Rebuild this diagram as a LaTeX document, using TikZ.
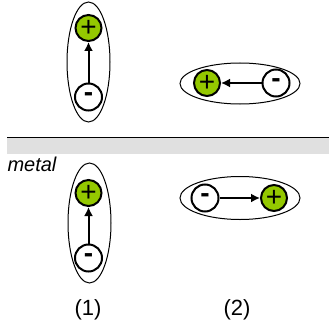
\documentclass[tikz,border=0pt]{standalone}
\usepackage{fontspec}
\setmainfont{Liberation Sans}
\usetikzlibrary{arrows.meta,shapes.geometric}
\definecolor{plusgreen}{RGB}{148,200,0}
\definecolor{metalgray}{RGB}{224,224,224}

\begin{document}
\begin{tikzpicture}[x=1pt, y=-1pt,
    charge/.style={circle, draw, line width=2pt, inner sep=0pt},
    poscharge/.style={charge, fill=plusgreen, minimum size=26pt, font=\fontsize{28}{28}\selectfont},
    negcharge/.style={charge, fill=white, minimum size=27pt, font=\fontsize{28}{28}\selectfont\bfseries},
    shell/.style={ellipse, draw, line width=1pt, inner sep=0pt},
    bond/.style={-{Latex[length=9pt,width=9pt]}, line width=2pt},
    caption/.style={font=\fontsize{22}{22}\selectfont}
]
    \useasboundingbox (0,0) rectangle (329,329);

    % metal surface
    \fill[metalgray] (7,138) rectangle (329,154);
    \draw[line width=1pt] (7,137) -- (329,137);
    \node[anchor=west, font=\fontsize{20}{20}\selectfont\itshape] (metal) at (4,164) {metal};

    % upper row
    \node[shell, minimum width=43pt, minimum height=120pt] (shellA) at (88.5,62) {};
    \node[poscharge] (posA) at (88.5,28) {+};
    \node[negcharge] (negA) at (88.5,97) {-};
    \draw[bond] (negA) -- (posA);

    \node[shell, minimum width=120pt, minimum height=41pt] (shellB) at (240,83.5) {};
    \node[poscharge] (posB) at (207,83) {+};
    \node[negcharge] (negB) at (276,83) {-};
    \draw[bond] (negB) -- (posB);

    % lower row
    \node[shell, minimum width=43pt, minimum height=120pt] (shellC) at (89.5,223) {};
    \node[poscharge] (posC) at (88.5,193) {+};
    \node[negcharge] (negC) at (88.5,258) {-};
    \draw[bond] (negC) -- (posC);

    \node[shell, minimum width=120pt, minimum height=43pt] (shellD) at (240,198) {};
    \node[negcharge] (negD) at (205,198) {-};
    \node[poscharge] (posD) at (274,198) {+};
    \draw[bond] (negD) -- (posD);

    \node[caption] (capA) at (88,310) {(1)};
    \node[caption] (capB) at (237,310) {(2)};
\end{tikzpicture}
\end{document}
